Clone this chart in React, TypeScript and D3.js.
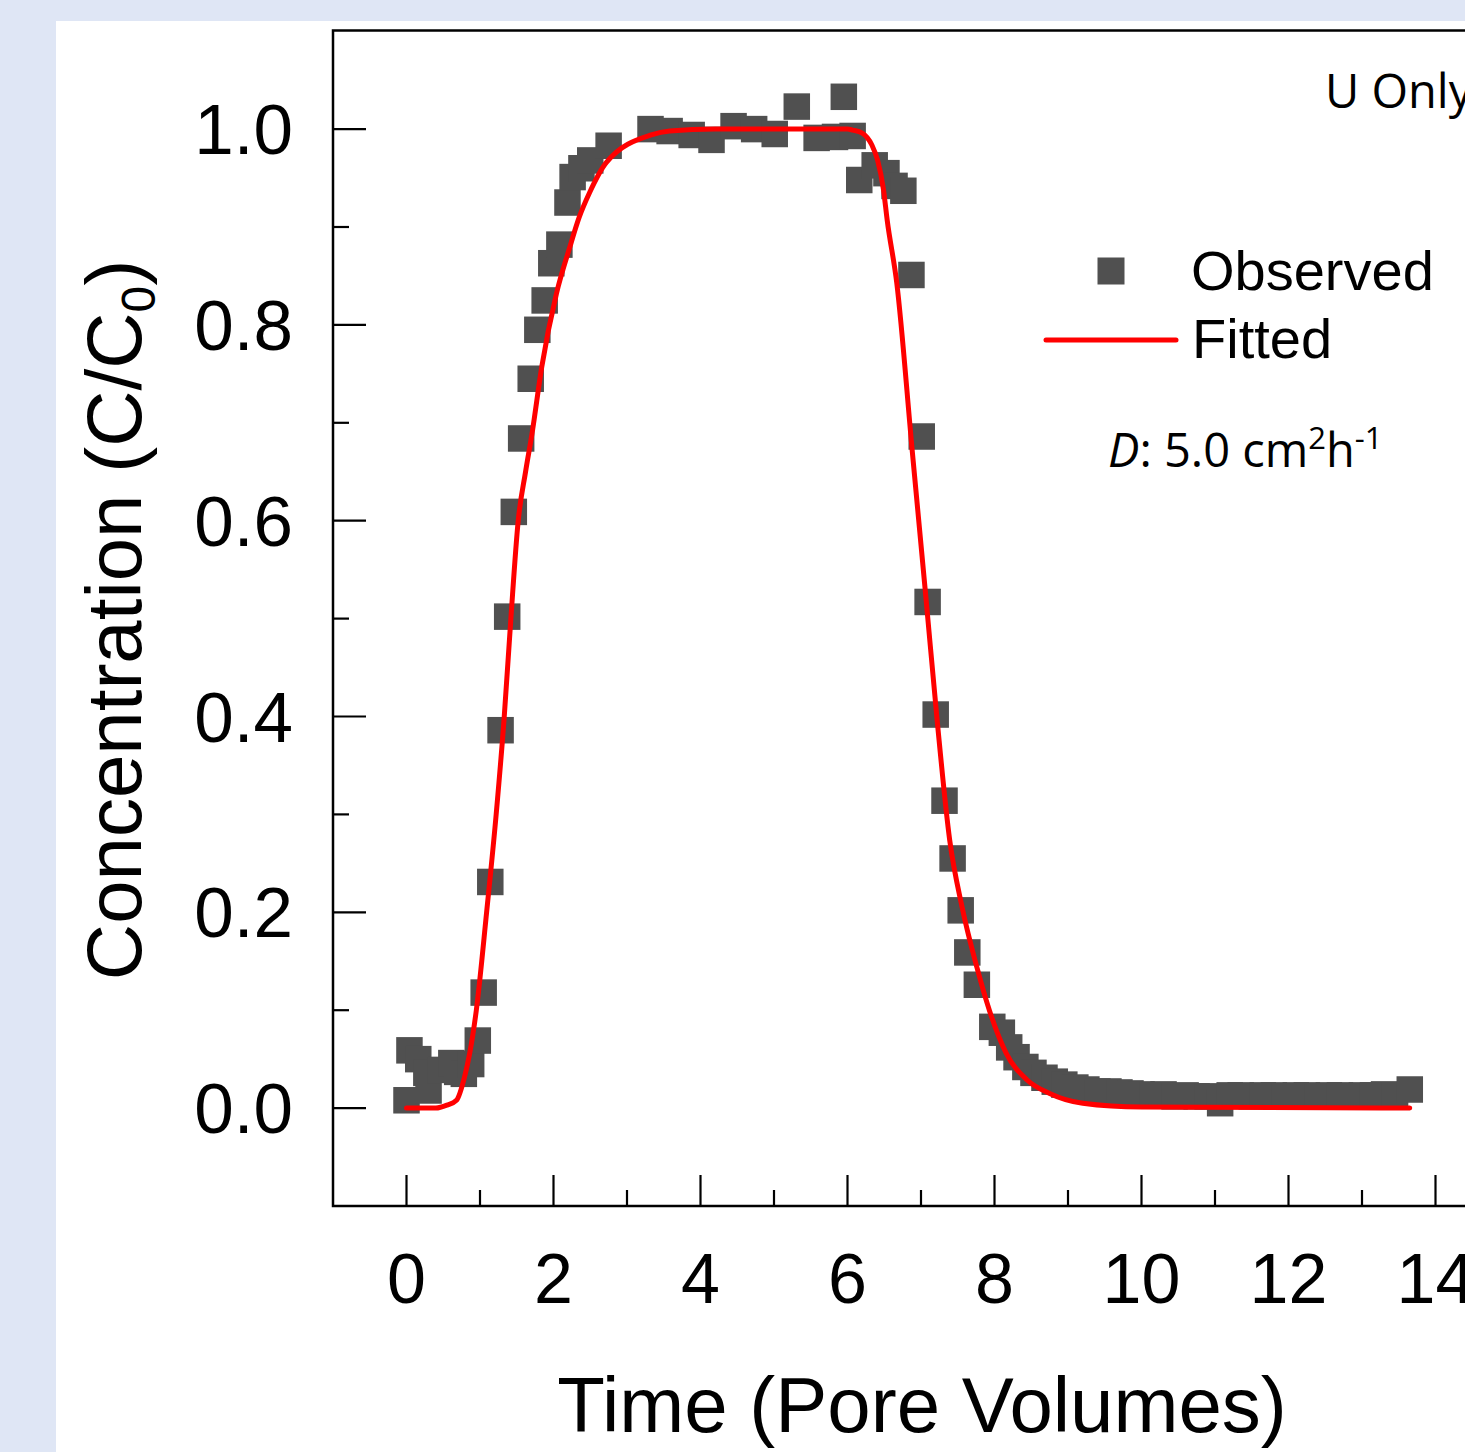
import React from "react";
import * as d3 from "d3";

const observedX = [
  0.0, 0.04, 0.16, 0.27, 0.3, 0.46, 0.61, 0.69, 0.78, 0.88, 0.97, 1.05, 1.14, 1.28, 1.37, 1.46, 1.56,
  1.69, 1.78, 1.88, 1.97, 2.08, 2.19, 2.26, 2.38, 2.5, 2.75, 3.32, 3.58, 3.88, 4.15, 4.45, 4.73,
  5.01, 5.31, 5.58, 5.83, 5.95, 6.07, 6.16, 6.37, 6.53, 6.64, 6.76, 6.87, 7.01, 7.09, 7.2, 7.32,
  7.43, 7.54, 7.63, 7.76, 7.97, 8.1, 8.2, 8.3, 8.42, 8.53, 8.68, 8.82, 8.95, 9.1, 9.25, 9.4, 9.55,
  9.7, 9.85, 10.0, 10.15, 10.3, 10.45, 10.6, 10.75, 10.9, 11.07, 11.2, 11.35, 11.5, 11.65, 11.8,
  11.95, 12.1, 12.25, 12.4, 12.55, 12.7, 12.85, 13.0, 13.15, 13.3, 13.45, 13.65,
];
const observedY = [
  0.008, 0.059, 0.05, 0.036, 0.018, 0.039, 0.046, 0.037, 0.035, 0.045, 0.069, 0.118, 0.231, 0.386,
  0.502, 0.609, 0.684, 0.745, 0.795, 0.825, 0.863, 0.882, 0.925, 0.951, 0.96, 0.968, 0.983, 1.0,
  0.998, 0.994, 0.989, 1.003, 1.0, 0.995, 1.023, 0.991, 0.992, 1.033, 0.993, 0.948, 0.963, 0.955,
  0.942, 0.937, 0.851, 0.686, 0.517, 0.402, 0.314, 0.255, 0.202, 0.159, 0.126, 0.083, 0.077, 0.062,
  0.052, 0.042, 0.036, 0.031, 0.027, 0.024, 0.021, 0.019, 0.017, 0.017, 0.016, 0.015, 0.014, 0.013,
  0.014, 0.012, 0.013, 0.012, 0.012, 0.005, 0.013, 0.013, 0.012, 0.013, 0.013, 0.012, 0.013, 0.013,
  0.012, 0.013, 0.013, 0.012, 0.013, 0.013, 0.014, 0.013, 0.019,
];

const fittedX = [
  0, 0.4, 0.55, 0.68, 0.79, 0.86, 0.95, 1.09, 1.22, 1.33, 1.42, 1.52, 1.62, 1.71, 1.84, 2.04, 2.22,
  2.35, 2.49, 2.72, 3.33, 3.58, 4.2, 6.0, 6.07, 6.2, 6.33, 6.41, 6.49, 6.54, 6.67, 6.88, 7.07, 7.22,
  7.39, 7.56, 7.76, 7.93, 8.16, 8.44, 8.75, 9.2, 10.0, 13.65,
];
const fittedY = [
  0, 0, 0.003, 0.008, 0.032, 0.056, 0.1, 0.2, 0.3, 0.4, 0.5, 0.6, 0.65, 0.69, 0.757, 0.832, 0.879,
  0.91, 0.935, 0.966, 0.994, 0.998, 1.0, 1.0, 0.999, 0.996, 0.984, 0.968, 0.938, 0.907, 0.843, 0.672,
  0.519, 0.396, 0.274, 0.205, 0.144, 0.1, 0.056, 0.029, 0.015, 0.005, 0.001, 0,
];

const xMajorTicks = [0, 2, 4, 6, 8, 10, 12, 14];
const xMinorTicks = [1, 3, 5, 7, 9, 11, 13];
const yMajorTicks = [0, 0.2, 0.4, 0.6, 0.8, 1.0];
const yMinorTicks = [0.1, 0.3, 0.5, 0.7, 0.9];

const xTitle = "Time (Pore Volumes)";
const yTitleMain = "Concentration (C/C";
const yTitleSub = "0";
const panelLabel = "U Only";
const legendLabels = ["Observed", "Fitted"];

const W = 1465;
const H = 1452;
const ARIAL = "'Liberation Sans', Arial, Helvetica, sans-serif";
const CAL = "'Open Sans', 'Noto Sans', sans-serif";

export default function App() {
  const x = d3.scaleLinear().domain([-1, 15]).range([333, 1509]);
  const y = d3.scaleLinear().domain([-0.1, 1.1]).range([1206, 31.2]);
  const fitted = fittedX.map((v, i) => [v, fittedY[i]] as [number, number]);
  const line = d3
    .line<[number, number]>()
    .x((d) => x(d[0]))
    .y((d) => y(d[1]))
    .curve(d3.curveMonotoneX);
  const ms = 26.5;
  const markerColor = "#505050";

  return (
    <svg
      width={W}
      height={H}
      style={{ position: "absolute", left: 0, top: 0 }}
      xmlns="http://www.w3.org/2000/svg"
    >
      <rect x={0} y={0} width={W} height={H} fill="#DFE6F5" />
      <rect x={56} y={21} width={W - 56} height={H - 21} fill="#FFFFFF" />

      {/* frame */}
      <rect x={333} y={30.5} width={1509 - 333} height={1206 - 30.5} fill="none" stroke="#000" strokeWidth={2.5} />

      {/* y ticks */}
      {yMajorTicks.map((t) => (
        <g key={"ym" + t}>
          <line x1={333} x2={366} y1={y(t)} y2={y(t)} stroke="#000" strokeWidth={2.2} />
          <text x={293} y={y(t) + 25} textAnchor="end" fontFamily={ARIAL} fontSize={71} fill="#000">
            {t.toFixed(1)}
          </text>
        </g>
      ))}
      {yMinorTicks.map((t) => (
        <line key={"yn" + t} x1={333} x2={349} y1={y(t)} y2={y(t)} stroke="#000" strokeWidth={2.2} />
      ))}

      {/* x ticks */}
      {xMajorTicks.map((t) => (
        <g key={"xm" + t}>
          <line x1={x(t)} x2={x(t)} y1={1206} y2={1175} stroke="#000" strokeWidth={2.2} />
          <text x={x(t)} y={1303} textAnchor="middle" fontFamily={ARIAL} fontSize={70} fill="#000">
            {t}
          </text>
        </g>
      ))}
      {xMinorTicks.map((t) => (
        <line key={"xn" + t} x1={x(t)} x2={x(t)} y1={1206} y2={1190} stroke="#000" strokeWidth={2.2} />
      ))}

      {/* axis titles */}
      <text x={922} y={1432} textAnchor="middle" fontFamily={ARIAL} fontSize={78} fill="#000">
        {xTitle}
      </text>
      <text
        transform="translate(141,620) rotate(-90)"
        textAnchor="middle"
        fontFamily={ARIAL}
        fontSize={78}
        fill="#000"
      >
        {yTitleMain}
        <tspan fontSize={48} dy={14}>
          {yTitleSub}
        </tspan>
        <tspan dy={-14}>)</tspan>
      </text>

      {/* observed */}
      {observedX.map((v, i) => (
        <rect
          key={"o" + i}
          x={x(v) - ms / 2}
          y={y(observedY[i]) - ms / 2}
          width={ms}
          height={ms}
          fill={markerColor}
        />
      ))}

      {/* fitted */}
      <path d={line(fitted) || ""} fill="none" stroke="#FF0000" strokeWidth={5} strokeLinejoin="round" strokeLinecap="round" />

      {/* panel label */}
      <text x={1325} y={108} fontFamily={CAL} fontSize={47} fill="#000">
        {panelLabel}
      </text>

      {/* legend */}
      <rect x={1111 - 13.5} y={271 - 13.5} width={27} height={27} fill={markerColor} />
      <text x={1191} y={290} fontFamily={ARIAL} fontSize={56} fill="#000">
        {legendLabels[0]}
      </text>
      <line x1={1046} x2={1176} y1={340} y2={340} stroke="#FF0000" strokeWidth={5} strokeLinecap="round" />
      <text x={1192} y={358} fontFamily={ARIAL} fontSize={56} fill="#000">
        {legendLabels[1]}
      </text>

      <text x={1108} y={467} fontFamily={CAL} fontSize={47} fill="#000">
        <tspan fontStyle="italic">D</tspan>
        <tspan>: 5.0 cm</tspan>
        <tspan fontSize={31} dy={-18}>2</tspan>
        <tspan dy={18}>h</tspan>
        <tspan fontSize={31} dy={-18}>-1</tspan>
      </text>
    </svg>
  );
}
